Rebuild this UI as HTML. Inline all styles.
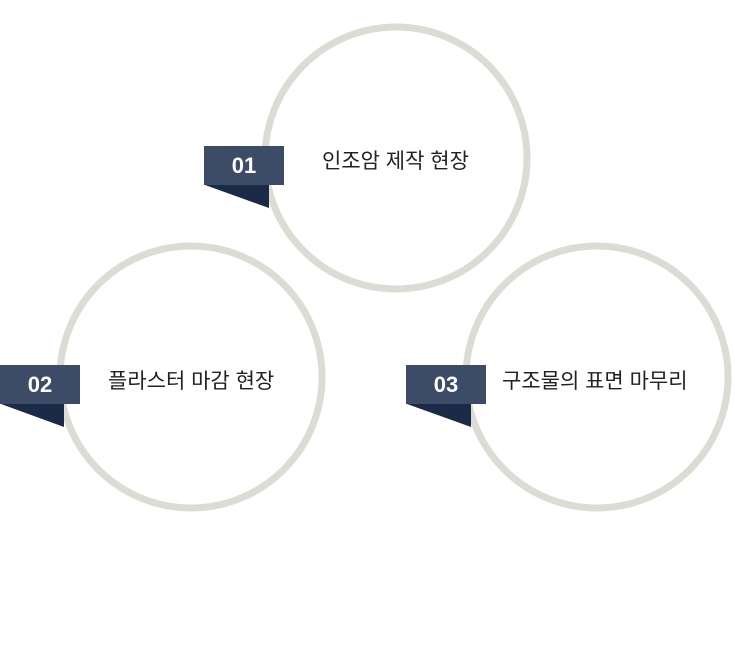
<!DOCTYPE html>
<html><head><meta charset="utf-8"><style>
body{margin:0;background:#fff;width:735px;height:656px;overflow:hidden;position:relative;font-family:"Liberation Sans","Noto Sans CJK KR",sans-serif}
.t{position:absolute;font-size:21px;color:#222;line-height:26px;white-space:nowrap}
.n{position:absolute;color:#fff;font-weight:bold;font-size:22px;width:80px;text-align:center;line-height:39px}
</style></head><body>
<svg width="735" height="656" style="position:absolute;left:0;top:0">
<g fill="none" stroke="#dcdcd5" stroke-width="7">
<circle cx="396" cy="158" r="131"/>
<circle cx="191" cy="377" r="131"/>
<circle cx="597" cy="377" r="131"/>
</g>
<g>
<rect x="204" y="146" width="80" height="39" fill="#3c4b66"/>
<polygon points="205,185 269,185 269,208" fill="#1b2a47"/>
<rect x="0" y="365" width="80" height="39" fill="#3c4b66"/>
<polygon points="1,404 64,404 64,427" fill="#1b2a47"/>
<rect x="406" y="365" width="80" height="39" fill="#3c4b66"/>
<polygon points="407,404 471,404 471,427" fill="#1b2a47"/>
</g>
</svg>
<div class="n" style="left:204px;top:146px">01</div>
<div class="n" style="left:0;top:365px">02</div>
<div class="n" style="left:406px;top:365px">03</div>
<div class="t" style="left:322px;top:149px">인조암 제작 현장</div>
<div class="t" style="left:108px;top:369px">플라스터 마감 현장</div>
<div class="t" style="left:502px;top:369px">구조물의 표면 마무리</div>
</body></html>
